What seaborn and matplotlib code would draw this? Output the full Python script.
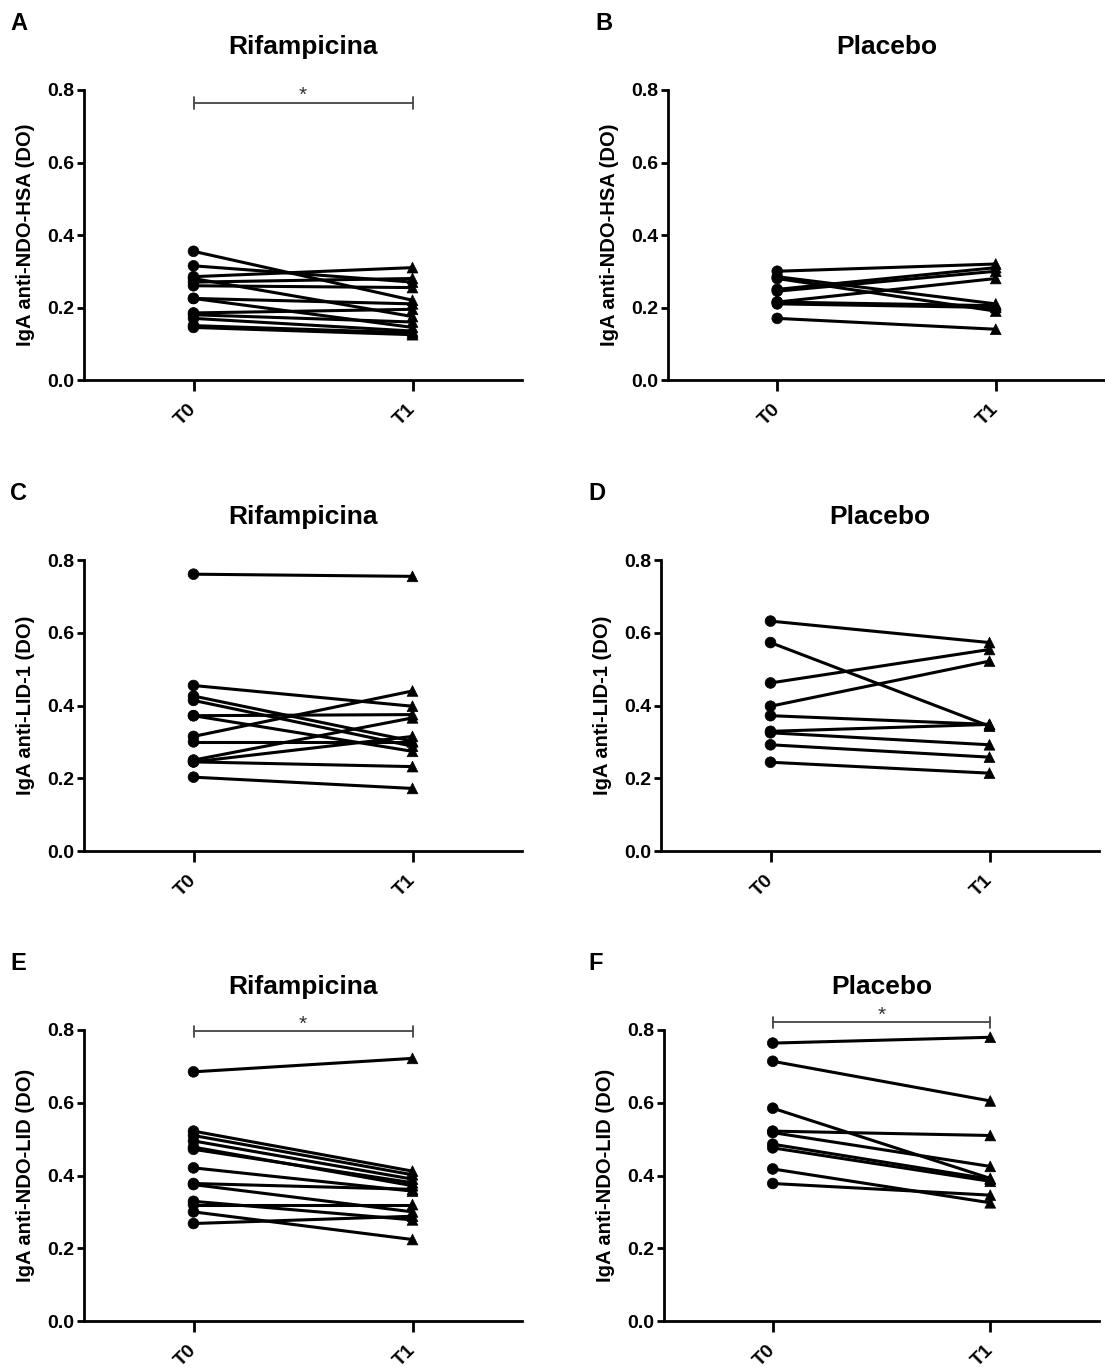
import numpy as np
import pandas as pd
import matplotlib
matplotlib.use("Agg")
import matplotlib.pyplot as plt
import seaborn as sns

# ---- data: paired IgA readings (DO) at T0 and T1 per subject ----
times = ["T0", "T1"]
ytick_vals = [0.0, 0.2, 0.4, 0.6, 0.8]

# A: anti-NDO-HSA, Rifampicina
ndo_hsa_rif_t0 = [0.355, 0.315, 0.285, 0.280, 0.270, 0.260, 0.225, 0.225, 0.185, 0.180, 0.170, 0.150, 0.145]
ndo_hsa_rif_t1 = [0.220, 0.270, 0.310, 0.175, 0.280, 0.255, 0.210, 0.145, 0.195, 0.160, 0.135, 0.130, 0.125]
# B: anti-NDO-HSA, Placebo
ndo_hsa_pla_t0 = [0.300, 0.285, 0.280, 0.250, 0.245, 0.215, 0.215, 0.210, 0.170]
ndo_hsa_pla_t1 = [0.320, 0.210, 0.190, 0.310, 0.300, 0.280, 0.205, 0.200, 0.140]
# C: anti-LID-1, Rifampicina
lid1_rif_t0 = [0.761, 0.455, 0.426, 0.414, 0.372, 0.372, 0.315, 0.300, 0.250, 0.245, 0.245, 0.203]
lid1_rif_t1 = [0.755, 0.398, 0.302, 0.288, 0.375, 0.274, 0.440, 0.300, 0.366, 0.315, 0.232, 0.172]
# D: anti-LID-1, Placebo
lid1_pla_t0 = [0.632, 0.573, 0.462, 0.398, 0.372, 0.329, 0.325, 0.292, 0.244]
lid1_pla_t1 = [0.573, 0.343, 0.554, 0.522, 0.348, 0.348, 0.292, 0.258, 0.214]
# E: anti-NDO-LID, Rifampicina
ndo_lid_rif_t0 = [0.685, 0.522, 0.510, 0.495, 0.478, 0.472, 0.421, 0.378, 0.375, 0.329, 0.320, 0.300, 0.268]
ndo_lid_rif_t1 = [0.722, 0.412, 0.402, 0.390, 0.372, 0.380, 0.357, 0.362, 0.300, 0.278, 0.320, 0.224, 0.288]
# F: anti-NDO-LID, Placebo
ndo_lid_pla_t0 = [0.764, 0.714, 0.585, 0.522, 0.518, 0.486, 0.476, 0.418, 0.378]
ndo_lid_pla_t1 = [0.780, 0.605, 0.392, 0.510, 0.425, 0.390, 0.384, 0.325, 0.346]

panel_letters = ["A", "B", "C", "D", "E", "F"]
panel_titles = ["Rifampicina", "Placebo", "Rifampicina", "Placebo", "Rifampicina", "Placebo"]
panel_ylabels = ["IgA anti-NDO-HSA (DO)", "IgA anti-NDO-HSA (DO)",
                 "IgA anti-LID-1 (DO)", "IgA anti-LID-1 (DO)",
                 "IgA anti-NDO-LID (DO)", "IgA anti-NDO-LID (DO)"]
panel_t0 = [ndo_hsa_rif_t0, ndo_hsa_pla_t0, lid1_rif_t0, lid1_pla_t0, ndo_lid_rif_t0, ndo_lid_pla_t0]
panel_t1 = [ndo_hsa_rif_t1, ndo_hsa_pla_t1, lid1_rif_t1, lid1_pla_t1, ndo_lid_rif_t1, ndo_lid_pla_t1]
# significance bracket height (None = no bracket)
sig_level = [0.764, None, None, None, 0.796, 0.821]

# ---- style ----
sns.set_theme(style="ticks")
plt.rcParams["font.family"] = ["Liberation Sans", "DejaVu Sans"]
plt.rcParams["font.weight"] = "bold"
for key in ["text.color", "axes.labelcolor", "xtick.color", "ytick.color", "axes.edgecolor"]:
    plt.rcParams[key] = "black"

W, H = 1105, 1367
fig = plt.figure(figsize=(W / 100, H / 100), dpi=100)

# axes boxes in pixels: left, right, top(0.8 level), bottom(0.0 level)
boxes = [
    (84, 522, 90, 380), (668, 1105, 90, 380),
    (84, 522, 560, 851), (661, 1099, 560, 851),
    (84, 522, 1030, 1321), (664, 1099, 1030, 1321),
]
letter_pos = [(10, 12), (595, 12), (10, 482), (588, 482), (10, 952), (588, 952)]

for i in range(6):
    l, r, t, b = boxes[i]
    ax = fig.add_axes([l / W, 1 - b / H, (r - l) / W, (b - t) / H])
    n = len(panel_t0[i])
    df = pd.DataFrame({
        "subject": np.tile(np.arange(n), 2),
        "time": np.repeat(times, n),
        "x": np.repeat([0, 1], n),
        "value": np.concatenate([panel_t0[i], panel_t1[i]]),
    })
    sns.lineplot(data=df, x="x", y="value", units="subject", estimator=None,
                 color="black", lw=2.2, ax=ax, legend=False)
    sns.scatterplot(data=df, x="x", y="value", style="time",
                    markers={"T0": "o", "T1": "^"}, color="black",
                    s=60, edgecolor="black", linewidth=0.5, ax=ax, legend=False,
                    zorder=3, clip_on=False)

    ax.set_xlim(-0.5, 1.5)
    ax.set_ylim(0, 0.8)
    ax.set_yticks(ytick_vals)
    ax.set_yticklabels([f"{v:.1f}" for v in ytick_vals], fontsize=14, fontweight="bold")
    ax.set_xticks([0, 1])
    ax.set_xticklabels(times, fontsize=14, fontweight="bold", rotation=45,
                       ha="right", va="center", rotation_mode="anchor")
    ax.tick_params(axis="x", length=8, width=2, pad=11)
    ax.tick_params(axis="y", length=5, width=2, pad=2)
    ax.set_xlabel("")
    ax.set_ylabel(panel_ylabels[i], fontsize=14.5, fontweight="bold", labelpad=9)
    for s in ["top", "right"]:
        ax.spines[s].set_visible(False)
    for s in ["left", "bottom"]:
        ax.spines[s].set_linewidth(2.0)
    ax.set_title(panel_titles[i], fontsize=19, fontweight="bold", pad=26)

    if sig_level[i] is not None:
        y = sig_level[i]
        cap = 0.016
        ax.plot([0, 1], [y, y], color="#444444", lw=1.3, clip_on=False)
        ax.plot([0, 0], [y - cap, y + cap], color="#444444", lw=1.3, clip_on=False)
        ax.plot([1, 1], [y - cap, y + cap], color="#444444", lw=1.3, clip_on=False)
        ax.text(0.5, y - 0.006, "*", ha="center", va="bottom", fontsize=15,
                fontweight="normal", color="#333333", clip_on=False)

    lx, ly = letter_pos[i]
    fig.text(lx / W, 1 - ly / H, panel_letters[i], fontsize=17, fontweight="bold",
             ha="left", va="top")

fig.savefig("out.png", dpi=100)
